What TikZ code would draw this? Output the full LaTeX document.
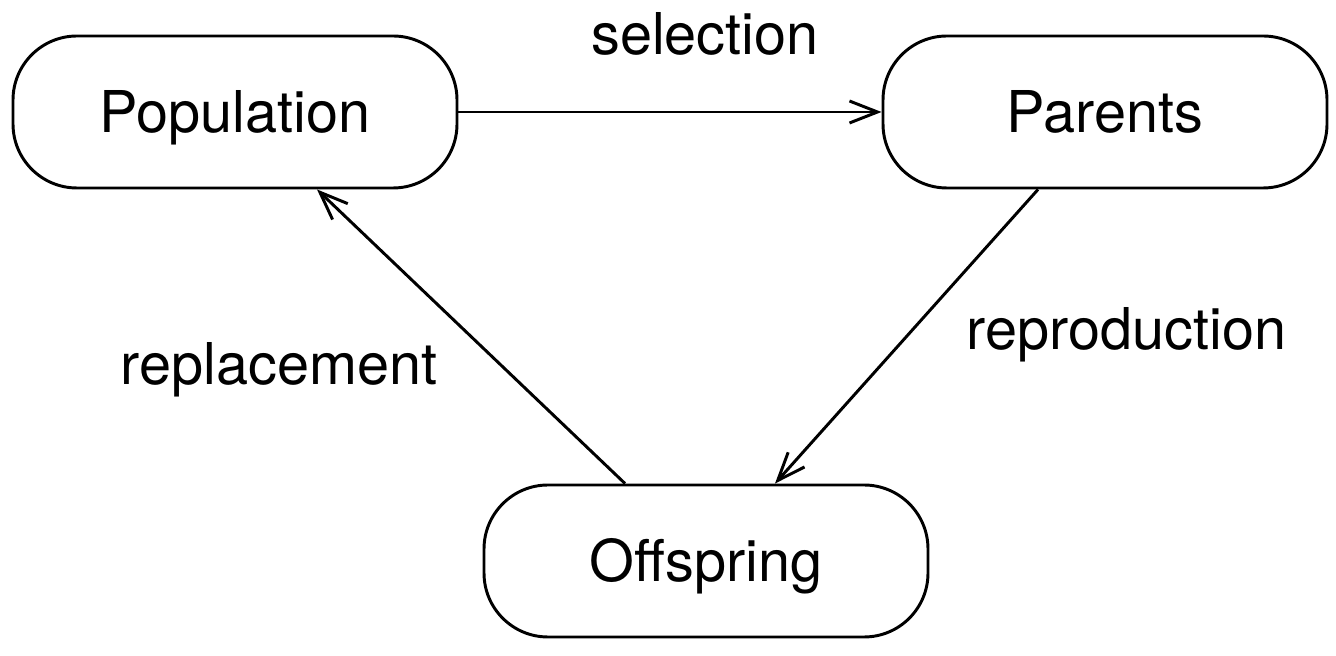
\documentclass[tikz,border=0pt]{standalone}
\usepackage{fontspec}
\setmainfont{TeX Gyre Heros}
\usetikzlibrary{positioning}
\usetikzlibrary{arrows.meta}

\tikzset{
	stage/.style={draw=black, line width=2.1pt, rounded corners=1.6cm, minimum width=11.1cm, minimum height=3.8cm, text height=1.05cm, text depth=0pt, inner sep=0pt, font=\fontsize{41}{49}\selectfont},
	lbl/.style={anchor=base, inner sep=0pt, font=\fontsize{41}{49}\selectfont},
	link/.style={line width=2.1pt, -{Straight Barb[length=0.7cm, width=0.55cm, line width=2.1pt]}}
}

\begin{document}
\begin{tikzpicture}
				\useasboundingbox (0,0) rectangle (33.4,16.4);
				%Nodes
				\node[stage] (pop) 	at (5.875,13.6) 	{Population};
				\node[stage] (par) 	at (27.625,13.6) 	{Parents};
				\node[stage] (off) 	at (17.65,2.375) 	{Offspring};
				
				\coordinate (parout) 	at ([xshift=-1.675cm]par.south);
				\coordinate (offin) 	at ([xshift=1.725cm]off.north);
				\coordinate (offout) 	at ([xshift=-2.025cm]off.north);
				\coordinate (popin) 	at ([xshift=2.05cm]pop.south);
				
				%Lines
				\draw[link] (pop.east) -- (par.west);
				\draw[link] (parout) -- (offin);
				\draw[link] (offout) -- (popin);
				
				%Labels
				\node[lbl] (sel) 	at (17.625,15.025) 	{selection};
				\node[lbl] (rep) 	at (28.16,7.65) 	{reproduction};
				\node[lbl] (rpl) 	at (6.975,6.775) 	{replacement};

\end{tikzpicture}
\end{document}
